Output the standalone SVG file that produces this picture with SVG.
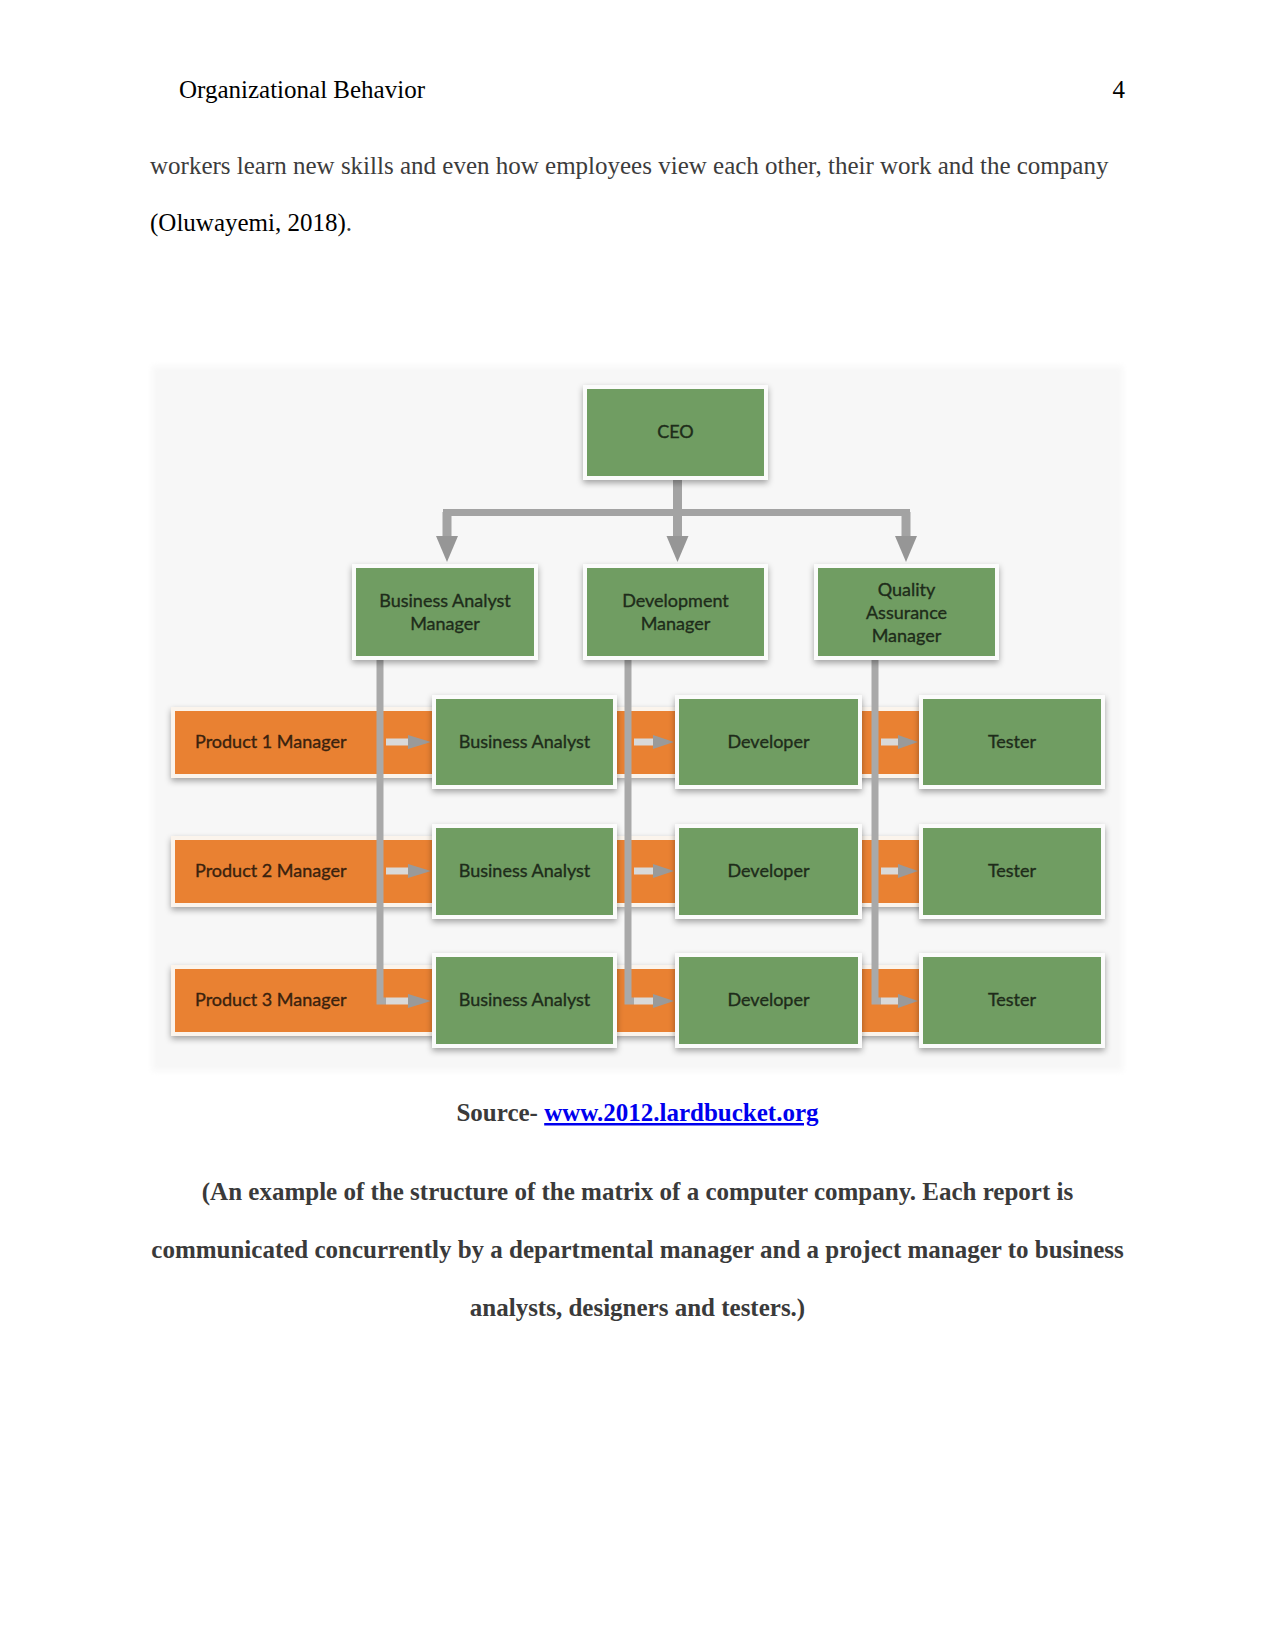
<svg xmlns="http://www.w3.org/2000/svg" width="1275" height="1650" viewBox="0 0 1275 1650">
<defs>
<style>
.page{font-family:"Liberation Serif","Times New Roman",serif;font-size:25px}
.hdr{fill:#000}
.body{fill:#3c3c3c}
.cap{fill:#3a3a3a;font-weight:bold;text-anchor:middle}
.lbl{font-family:Lato,"Open Sans",sans-serif;font-size:18px;fill:#1e2c1a;stroke:#1e2c1a;stroke-width:0.35;text-anchor:middle}
.lblL{font-family:Lato,"Open Sans",sans-serif;font-size:18px;fill:#3a220e;stroke:#3a220e;stroke-width:0.35}
.green{fill:#6f9d62;stroke:#fbfbfb;stroke-width:4;filter:url(#sh)}
.orange{fill:#e98130;stroke:#fbf4ec;stroke-width:4;filter:url(#sh)}
.bar{stroke:#a3a3a3;fill:none}
.vline{stroke:#a9a9a9;stroke-width:7;fill:none}
.shaft{stroke:#d9d9d9;stroke-width:7}
.head{fill:#9a9a9a}
.ahead{fill:#969696}
</style>
<filter id="sh" x="-10%" y="-15%" width="120%" height="140%">
<feDropShadow dx="0" dy="3" stdDeviation="3" flood-color="#000" flood-opacity="0.35"/>
</filter>
<filter id="bgblur" x="-5%" y="-5%" width="110%" height="110%">
<feGaussianBlur stdDeviation="3"/>
</filter>
</defs>
<rect width="1275" height="1650" fill="#ffffff"/>

<!-- page text -->
<g class="page">
<text class="hdr" x="179" y="98">Organizational Behavior</text>
<text class="hdr" x="1125" y="98" text-anchor="end">4</text>
<text class="body" x="150" y="174">workers learn new skills and even how employees view each other, their work and the company</text>
<text class="body" x="150" y="231"><tspan fill="#000">(Oluwayemi, 2018)</tspan>.</text>
<text class="cap" x="637.5" y="1121">Source- <tspan fill="#0000ee" text-decoration="underline">www.2012.lardbucket.org</tspan></text>
<text class="cap" x="637.5" y="1200">(An example of the structure of the matrix of a computer company. Each report is</text>
<text class="cap" x="637.5" y="1258">communicated concurrently by a departmental manager and a project manager to business</text>
<text class="cap" x="637.5" y="1316">analysts, designers and testers.)</text>
</g>

<!-- diagram background -->
<rect x="152" y="366" width="971" height="705" fill="#f7f7f7" filter="url(#bgblur)"/>

<!-- product manager bands -->
<g id="product1">
<rect class="orange" x="173" y="709" width="760" height="67"/>
<text class="lblL" x="195" y="748">Product 1 Manager</text>
</g>
<g id="product2">
<rect class="orange" x="173" y="838" width="760" height="67"/>
<text class="lblL" x="195" y="877">Product 2 Manager</text>
</g>
<g id="product3">
<rect class="orange" x="173" y="967" width="760" height="67"/>
<text class="lblL" x="195" y="1006">Product 3 Manager</text>
</g>

<!-- connectors -->
<g id="connectors">
<line class="bar" x1="677.5" y1="480" x2="677.5" y2="512" stroke-width="9"/>
<line class="bar" x1="443" y1="512.5" x2="910" y2="512.5" stroke-width="7"/>
<line class="bar" x1="447" y1="512" x2="447" y2="540" stroke-width="9"/>
<line class="bar" x1="677.5" y1="512" x2="677.5" y2="540" stroke-width="9"/>
<line class="bar" x1="906" y1="512" x2="906" y2="540" stroke-width="9"/>
<polygon class="ahead" points="436,536 458,536 447,562"/>
<polygon class="ahead" points="666.5,536 688.5,536 677.5,562"/>
<polygon class="ahead" points="895,536 917,536 906,562"/>

<path class="vline" d="M380,660 V1001 H386"/>
<path class="vline" d="M628,660 V1001 H634"/>
<path class="vline" d="M875,660 V1001 H881"/>

<line class="shaft" x1="386" y1="742" x2="410" y2="742"/>
<polygon class="head" points="408,735 431,742 408,749"/>
<line class="shaft" x1="386" y1="871" x2="410" y2="871"/>
<polygon class="head" points="408,864 431,871 408,878"/>
<line class="shaft" x1="386" y1="1001" x2="410" y2="1001"/>
<polygon class="head" points="408,994 431,1001 408,1008"/>

<line class="shaft" x1="634" y1="742" x2="655" y2="742"/>
<polygon class="head" points="653,735 674,742 653,749"/>
<line class="shaft" x1="634" y1="871" x2="655" y2="871"/>
<polygon class="head" points="653,864 674,871 653,878"/>
<line class="shaft" x1="634" y1="1001" x2="655" y2="1001"/>
<polygon class="head" points="653,994 674,1001 653,1008"/>

<line class="shaft" x1="881" y1="742" x2="900" y2="742"/>
<polygon class="head" points="898,735 918,742 898,749"/>
<line class="shaft" x1="881" y1="871" x2="900" y2="871"/>
<polygon class="head" points="898,864 918,871 898,878"/>
<line class="shaft" x1="881" y1="1001" x2="900" y2="1001"/>
<polygon class="head" points="898,994 918,1001 898,1008"/>
</g>

<!-- top level -->
<g id="ceo">
<rect class="green" x="585" y="387" width="181" height="91"/>
<text class="lbl" x="675.5" y="438">CEO</text>
</g>
<g id="ba-manager">
<rect class="green" x="354" y="566" width="182" height="92"/>
<text class="lbl" x="445" y="607">Business Analyst</text>
<text class="lbl" x="445" y="630">Manager</text>
</g>
<g id="dev-manager">
<rect class="green" x="585" y="566" width="181" height="92"/>
<text class="lbl" x="675.5" y="607">Development</text>
<text class="lbl" x="675.5" y="630">Manager</text>
</g>
<g id="qa-manager">
<rect class="green" x="816" y="566" width="181" height="92"/>
<text class="lbl" x="906.5" y="596">Quality</text>
<text class="lbl" x="906.5" y="619">Assurance</text>
<text class="lbl" x="906.5" y="642">Manager</text>
</g>

<!-- row 1 -->
<g id="ba1"><rect class="green" x="434" y="697" width="181" height="90"/><text class="lbl" x="524.5" y="748">Business Analyst</text></g>
<g id="dev1"><rect class="green" x="677" y="697" width="183" height="90"/><text class="lbl" x="768.5" y="748">Developer</text></g>
<g id="test1"><rect class="green" x="921" y="697" width="182" height="90"/><text class="lbl" x="1012" y="748">Tester</text></g>
<!-- row 2 -->
<g id="ba2"><rect class="green" x="434" y="826" width="181" height="91"/><text class="lbl" x="524.5" y="877">Business Analyst</text></g>
<g id="dev2"><rect class="green" x="677" y="826" width="183" height="91"/><text class="lbl" x="768.5" y="877">Developer</text></g>
<g id="test2"><rect class="green" x="921" y="826" width="182" height="91"/><text class="lbl" x="1012" y="877">Tester</text></g>
<!-- row 3 -->
<g id="ba3"><rect class="green" x="434" y="955" width="181" height="91"/><text class="lbl" x="524.5" y="1006">Business Analyst</text></g>
<g id="dev3"><rect class="green" x="677" y="955" width="183" height="91"/><text class="lbl" x="768.5" y="1006">Developer</text></g>
<g id="test3"><rect class="green" x="921" y="955" width="182" height="91"/><text class="lbl" x="1012" y="1006">Tester</text></g>
</svg>
